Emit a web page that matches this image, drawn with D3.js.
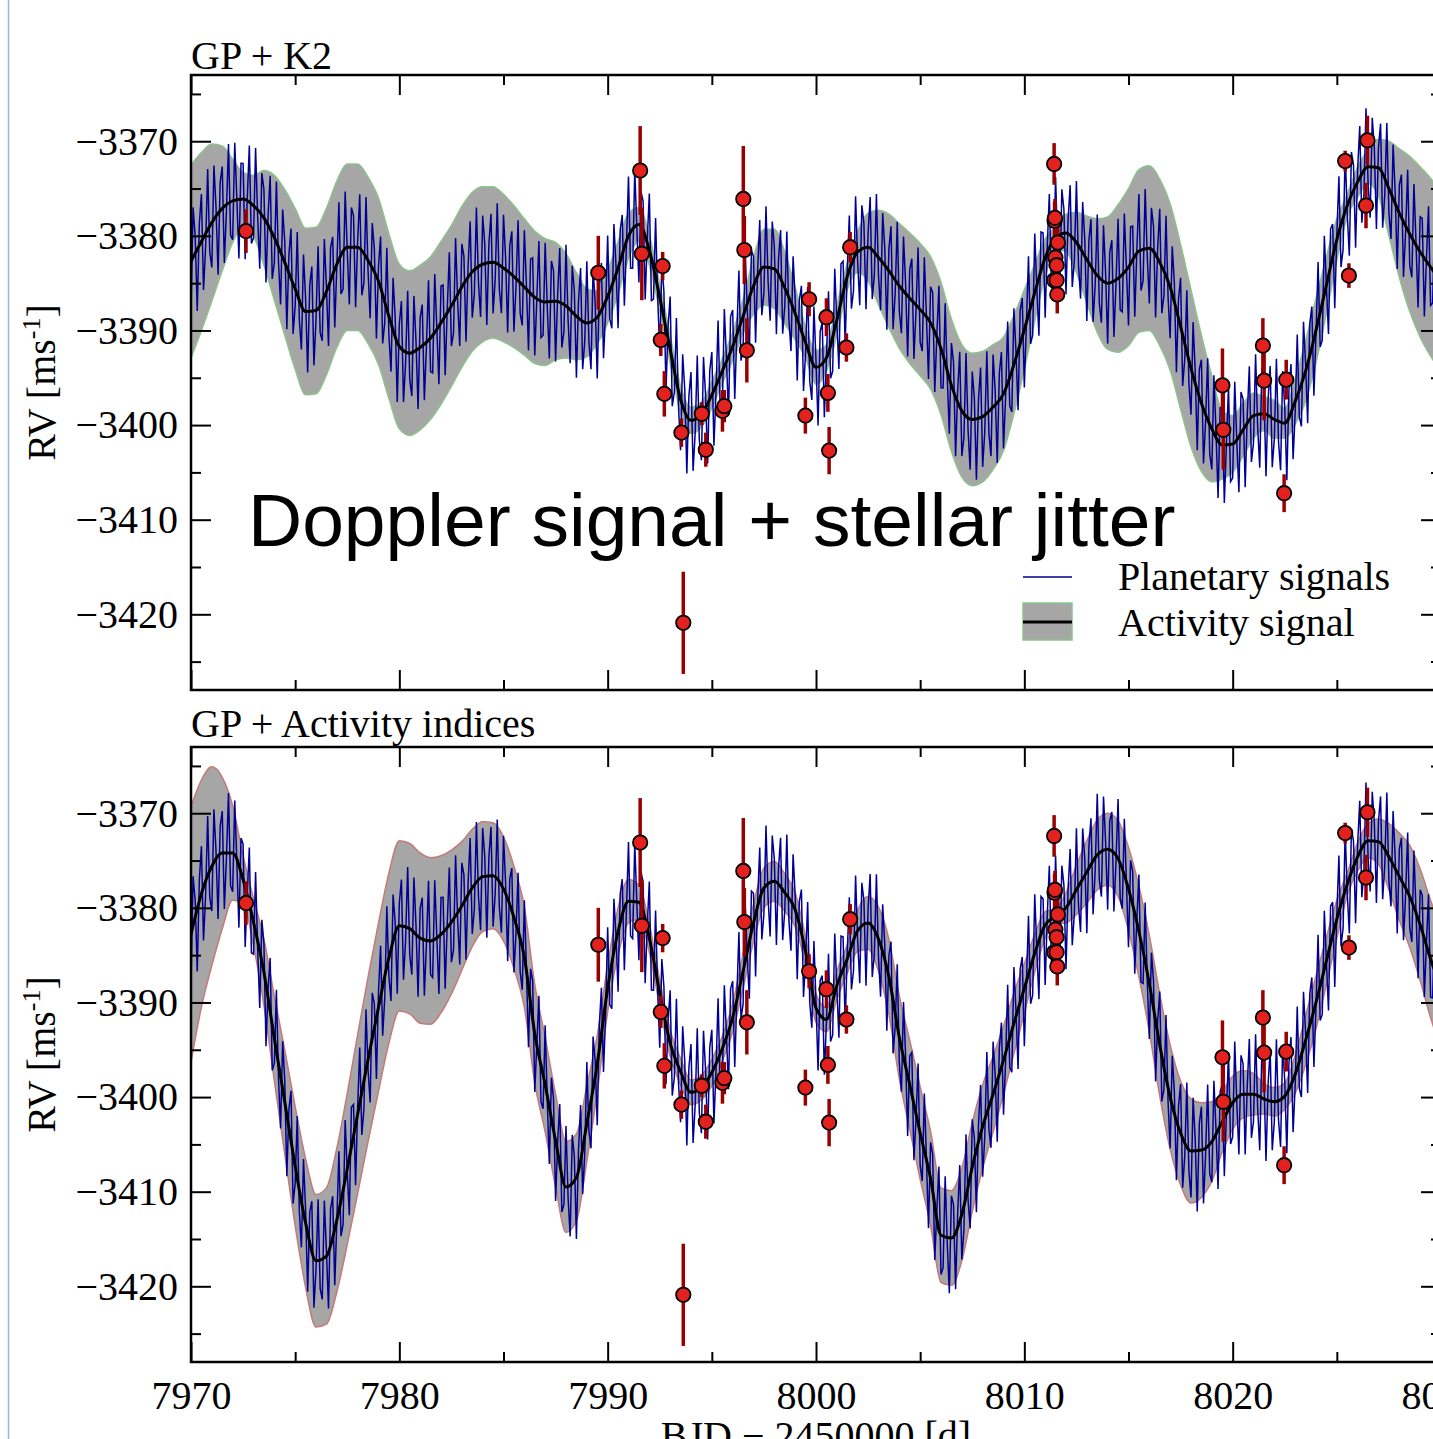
<!DOCTYPE html>
<html>
<head>
<meta charset="utf-8">
<script src="https://cdn.jsdelivr.net/npm/d3@7"></script>
<style>
  body { margin: 0; background: #fff; }
  svg { display: block; }
</style>
</head>
<body>
<div id="chart"></div>
<script>
// ---- data ----
// GP mean and half width of the activity band, every 0.5 d from 7970 to 8030
const gpStart = 7970, gpStep = 0.5;

const topMean = [
  -3382.7, -3380.6, -3378.6, -3377.1, -3376.3, -3376.1, -3376.8, -3378.1, -3380.2, -3382.8,
  -3385.6, -3388.0, -3387.9, -3385.9, -3383.0, -3381.2, -3381.2, -3382.6, -3384.8, -3388.5,
  -3391.7, -3392.4, -3391.8, -3390.8, -3389.2, -3387.4, -3385.4, -3383.8, -3383.0, -3382.8,
  -3383.4, -3384.3, -3385.4, -3386.5, -3387.0, -3386.9, -3387.4, -3388.5, -3389.2, -3388.6,
  -3386.4, -3383.4, -3380.0, -3378.8, -3381.5, -3386.5, -3392.0, -3397.3, -3399.5, -3398.9,
  -3396.8, -3394.3, -3391.7, -3388.5, -3385.3, -3383.3, -3383.5, -3385.5, -3388.2, -3391.3,
  -3393.9, -3392.9, -3388.9, -3384.3, -3381.7, -3381.2, -3382.3, -3383.7, -3385.3, -3386.6,
  -3387.8, -3389.2, -3391.9, -3395.8, -3398.5, -3399.4, -3399.1, -3398.1, -3396.7, -3393.6,
  -3389.9, -3386.0, -3382.3, -3380.2, -3379.7, -3380.7, -3382.5, -3384.2, -3385.0, -3384.5,
  -3383.3, -3381.6, -3381.3, -3382.8, -3385.4, -3389.6, -3394.0, -3397.7, -3400.4, -3402.1,
  -3402.0, -3400.5, -3399.0, -3398.8, -3399.4, -3399.8, -3397.5, -3394.3, -3390.0, -3385.2,
  -3380.4, -3376.8, -3374.3, -3372.7, -3372.8, -3375.0, -3377.6, -3379.8, -3381.7, -3383.3,
  -3384.8
];
const topHalf = [
  10.2, 9.4, 8.3, 6.6, 4.4, 2.8, 3.2, 5.0, 6.6, 7.7,
  8.5, 8.8, 8.8, 8.8, 8.8, 8.8, 8.8, 8.8, 8.8, 8.7,
  8.7, 8.7, 8.7, 8.6, 8.6, 8.5, 8.5, 8.4, 8.2, 8.0,
  7.8, 7.5, 7.2, 7.0, 6.7, 6.2, 5.5, 4.6, 3.6, 2.8,
  2.8, 2.8, 2.4, 1.8, 1.6, 1.4, 1.5, 1.4, 1.4, 1.3,
  1.4, 1.3, 1.5, 1.8, 3.0, 4.0, 4.2, 3.8, 2.8, 1.6,
  1.8, 1.4, 1.6, 1.4, 2.2, 3.6, 5.0, 6.0, 6.6, 6.9,
  7.0, 7.0, 7.0, 7.0, 7.0, 7.0, 6.9, 6.6, 6.0, 5.2,
  4.2, 3.0, 2.0, 1.2, 2.0, 3.2, 4.6, 6.0, 7.0, 7.8,
  8.3, 8.6, 8.7, 8.8, 8.8, 8.7, 8.3, 7.2, 5.6, 3.6,
  3.0, 2.8, 2.4, 1.8, 2.0, 1.6, 2.4, 3.2, 3.4, 3.0,
  2.2, 1.2, 1.6, 1.8, 3.0, 5.0, 6.8, 8.2, 9.0, 9.4,
  9.5
];
const botMean = [
  -3382.8, -3378.5, -3375.6, -3374.2, -3374.2, -3377.0, -3381.5, -3386.8, -3393.8, -3400.5,
  -3407.3, -3413.3, -3417.3, -3416.8, -3413.0, -3407.6, -3401.8, -3396.0, -3390.5, -3385.3,
  -3381.9, -3382.2, -3383.2, -3383.5, -3382.8, -3381.5, -3379.8, -3377.9, -3376.7, -3376.6,
  -3378.0, -3381.0, -3385.2, -3393.3, -3398.7, -3404.6, -3409.5, -3408.5, -3402.8, -3396.5,
  -3388.5, -3382.5, -3379.3, -3379.4, -3383.2, -3389.0, -3394.3, -3397.3, -3399.5, -3399.0,
  -3397.4, -3394.9, -3391.6, -3386.7, -3381.6, -3377.9, -3377.2, -3378.4, -3380.2, -3384.6,
  -3390.6, -3391.8, -3388.2, -3385.4, -3382.4, -3381.6, -3383.3, -3387.3, -3393.7, -3398.7,
  -3403.8, -3408.6, -3414.6, -3414.9, -3412.4, -3407.4, -3403.1, -3399.7, -3396.1, -3392.2,
  -3388.5, -3384.8, -3381.8, -3380.9, -3380.0, -3378.1, -3376.2, -3374.4, -3373.8, -3374.8,
  -3378.0, -3382.5, -3388.0, -3394.5, -3400.0, -3403.8, -3405.7, -3405.6, -3404.7, -3402.6,
  -3400.6, -3399.7, -3399.7, -3400.2, -3400.5, -3399.9, -3397.6, -3394.0, -3390.0, -3385.6,
  -3381.2, -3377.5, -3374.6, -3372.9, -3373.0, -3374.6, -3376.7, -3378.8, -3381.8, -3385.4,
  -3388.5
];
const botHalf = [
  13.5, 12.0, 10.5, 8.0, 5.0, 2.5, 2.5, 3.5, 4.5, 5.5,
  6.3, 6.8, 7.0, 7.2, 7.6, 8.0, 8.4, 8.7, 8.9, 9.0,
  9.0, 9.0, 9.0, 8.8, 8.3, 7.6, 6.8, 6.2, 5.8, 5.6,
  5.5, 5.4, 5.3, 5.2, 5.0, 4.9, 4.8, 4.6, 4.0, 3.0,
  2.5, 2.5, 2.3, 1.8, 1.5, 1.4, 1.4, 1.4, 1.3, 1.3,
  1.4, 1.3, 1.5, 1.8, 2.0, 2.1, 2.1, 2.0, 1.8, 1.5,
  1.5, 1.3, 1.5, 1.5, 2.2, 2.8, 3.4, 4.0, 4.4, 4.7,
  4.9, 5.0, 5.0, 5.0, 4.9, 4.7, 4.4, 4.0, 3.6, 3.2,
  2.6, 2.0, 1.4, 0.8, 1.6, 2.6, 3.3, 3.7, 3.8, 4.0,
  4.4, 4.8, 5.1, 5.4, 5.5, 5.5, 5.5, 5.0, 4.2, 3.2,
  2.8, 2.5, 2.2, 1.6, 1.5, 1.4, 2.0, 2.6, 2.8, 2.5,
  2.0, 1.2, 1.5, 1.8, 2.4, 3.5, 4.6, 5.4, 5.9, 6.2,
  6.4
];

// planetary signal: apparent period and amplitude of the blue zigzag
const planetPeriod = [0.331];
const planetK = [6.5];
const planetT0 = [7970.05];

// radial velocities
const obsTime = [
  7972.64, 7989.55, 7991.56, 7991.64, 7992.64, 7992.55, 7992.72, 7993.54, 7993.63, 7994.52,
  7994.71, 7995.51, 7995.60, 7996.51, 7996.56, 7996.68, 7999.49, 7999.67, 8000.50, 8000.57,
  8000.63, 8001.46, 8001.64, 8011.43, 8011.45, 8011.47, 8011.61, 8011.49, 8011.55, 8011.43,
  8011.55, 8011.58, 8019.51, 8019.55, 8021.45, 8021.51, 8022.57, 8022.47, 8025.40, 8025.58,
  8026.40, 8026.47
];
const obsRV = [
  -3379.5, -3383.9, -3373.1, -3381.9, -3383.2, -3391.0, -3396.7, -3400.8, -3420.9, -3398.8,
  -3402.6, -3398.5, -3398.0, -3376.1, -3381.5, -3392.1, -3399.0, -3386.7, -3388.6, -3396.6,
  -3402.7, -3391.8, -3381.2, -3372.4, -3378.4, -3378.1, -3380.7, -3382.3, -3383.1, -3384.7,
  -3384.7, -3386.2, -3395.8, -3400.5, -3391.6, -3395.3, -3395.2, -3407.2, -3372.1, -3384.2,
  -3376.8, -3369.9
];
const obsErr = [
  2.3, 3.9, 4.7, 4.9, 1.5, 1.7, 2.4, 1.5, 5.4, 1.2,
  1.8, 2.2, 1.7, 5.6, 3.6, 3.4, 1.9, 1.8, 2.0, 2.0,
  2.5, 1.5, 1.6, 2.2, 2.0, 2.0, 2.0, 2.0, 2.0, 2.0,
  2.0, 2.0, 3.9, 4.2, 2.9, 4.2, 2.1, 2.0, 1.1, 1.3,
  2.4, 2.6
];

const xMajor = [7970, 7980, 7990, 8000, 8010, 8020, 8030];
const xMinor = [7975, 7985, 7995, 8005, 8015, 8025];
const yMajor = [-3420, -3410, -3400, -3390, -3380, -3370];
const yMinor = [-3425, -3415, -3405, -3395, -3385, -3375, -3365];

const panelTitles = ["GP + K2", "GP + Activity indices"];
const legendLabels = ["Planetary signals", "Activity signal"];

// ---- layout ----
const W = 1433, H = 1439;
const left = 191, right = 1441, plotH = 615;
const panelTops = [75, 747];
const titleY = [69, 737];
const serif = "'Liberation Serif', 'Times New Roman', Times, serif";
const bandStroke = ["#8cc38c", "#c47a7a"];

const svg = d3.select("#chart").append("svg")
  .attr("width", W)
  .attr("height", H)
  .style("font-family", serif);

svg.append("rect").attr("width", W).attr("height", H).attr("fill", "#fff");
// page edge line on the left
svg.append("line")
  .attr("x1", 8.5).attr("x2", 8.5).attr("y1", 0).attr("y2", H)
  .attr("stroke", "#9fb5d8").attr("stroke-width", 1.5);

const x = d3.scaleLinear().domain([7970, 8030]).range([left, right]);

const gpTime = topMean.map((d, i) => gpStart + i * gpStep);
const sampleTime = d3.range(7970, 8030.001, 0.1);

const obs = obsTime.map((t, i) => ({ t: t, rv: obsRV[i], err: obsErr[i] }));

function keplerian(t) {
  let v = 0;
  planetPeriod.forEach((P, k) => {
    v += planetK[k] * Math.sin(2 * Math.PI * (t - planetT0[k]) / P);
  });
  return v;
}

function drawPanel(idx, mean, half) {
  const top = panelTops[idx];
  const y = d3.scaleLinear().domain([-3428, -3363]).range([top + plotH, top]);

  const clipId = "clip" + idx;
  svg.append("clipPath").attr("id", clipId)
    .append("rect")
    .attr("x", left).attr("y", top)
    .attr("width", right - left).attr("height", plotH);

  const g = svg.append("g").attr("clip-path", `url(#${clipId})`);

  const gp = gpTime.map((t, i) => ({ t: t, m: mean[i], h: half[i] }));

  // activity band
  g.append("path")
    .datum(gp)
    .attr("fill", "#a6a6a6")
    .attr("d", d3.area()
      .x(d => x(d.t))
      .y0(d => y(d.m - d.h))
      .y1(d => y(d.m + d.h))
      .curve(d3.curveMonotoneX));

  [1, -1].forEach(s => {
    g.append("path")
      .datum(gp)
      .attr("fill", "none")
      .attr("stroke", bandStroke[idx])
      .attr("stroke-width", 1.5)
      .attr("d", d3.line()
        .x(d => x(d.t))
        .y(d => y(d.m + s * d.h))
        .curve(d3.curveMonotoneX));
  });

  // planetary signals on top of the GP mean
  const meanAt = d3.scaleLinear().domain(gpTime).range(mean);
  const blue = sampleTime.map(t => ({ t: t, v: meanAt(t) + keplerian(t) }));
  g.append("path")
    .datum(blue)
    .attr("fill", "none")
    .attr("stroke", "#000096")
    .attr("stroke-width", 1.5)
    .attr("d", d3.line().x(d => x(d.t)).y(d => y(d.v)));

  // GP mean
  g.append("path")
    .datum(gp)
    .attr("fill", "none")
    .attr("stroke", "#000")
    .attr("stroke-width", 3)
    .attr("d", d3.line().x(d => x(d.t)).y(d => y(d.m)).curve(d3.curveMonotoneX));

  // error bars + points
  g.selectAll(".err")
    .data(obs)
    .enter()
    .append("line")
    .attr("x1", d => x(d.t)).attr("x2", d => x(d.t))
    .attr("y1", d => y(d.rv - d.err)).attr("y2", d => y(d.rv + d.err))
    .attr("stroke", "#990000")
    .attr("stroke-width", 3.5);

  g.selectAll(".pt")
    .data(obs)
    .enter()
    .append("circle")
    .attr("cx", d => x(d.t))
    .attr("cy", d => y(d.rv))
    .attr("r", 7.2)
    .attr("fill", "#e3211f")
    .attr("stroke", "#000")
    .attr("stroke-width", 1.8);

  // axes, ticks inward on all sides
  function addAxis(gen, transform, keepLabels) {
    const a = svg.append("g").attr("transform", transform).call(gen);
    a.select(".domain").remove();
    a.selectAll(".tick line").attr("stroke", "#000").attr("stroke-width", 2);
    if (keepLabels) {
      a.selectAll("text")
        .attr("fill", "#000")
        .style("font-family", serif)
        .style("font-size", "40px");
    } else {
      a.selectAll("text").remove();
    }
  }
  const fmt = d3.format("d");
  addAxis(d3.axisLeft(y).tickValues(yMajor).tickSize(-20).tickPadding(13).tickFormat(fmt), `translate(${left},0)`, true);
  addAxis(d3.axisLeft(y).tickValues(yMinor).tickSize(-10), `translate(${left},0)`, false);
  addAxis(d3.axisRight(y).tickValues(yMajor).tickSize(-20), `translate(${right},0)`, false);
  addAxis(d3.axisRight(y).tickValues(yMinor).tickSize(-10), `translate(${right},0)`, false);
  addAxis(d3.axisTop(x).tickValues(xMajor).tickSize(-20), `translate(0,${top})`, false);
  addAxis(d3.axisTop(x).tickValues(xMinor).tickSize(-10), `translate(0,${top})`, false);
  addAxis(d3.axisBottom(x).tickValues(xMajor).tickSize(-20).tickPadding(19).tickFormat(fmt),
    `translate(0,${top + plotH})`, idx === 1);
  addAxis(d3.axisBottom(x).tickValues(xMinor).tickSize(-10), `translate(0,${top + plotH})`, false);

  svg.append("rect")
    .attr("x", left).attr("y", top)
    .attr("width", right - left).attr("height", plotH)
    .attr("fill", "none")
    .attr("stroke", "#000")
    .attr("stroke-width", 2.5);

  // panel title
  svg.append("text")
    .attr("x", left)
    .attr("y", titleY[idx])
    .style("font-size", "40px")
    .text(panelTitles[idx]);

  // y label
  const yl = svg.append("text")
    .attr("transform", `translate(55,${top + plotH / 2}) rotate(-90)`)
    .attr("text-anchor", "middle")
    .style("font-size", "40px");
  yl.append("tspan").text("RV [ms");
  yl.append("tspan").attr("dy", -15).style("font-size", "26px").text("-1");
  yl.append("tspan").attr("dy", 15).text("]");
}

drawPanel(0, topMean, topHalf);
drawPanel(1, botMean, botHalf);

// annotation
svg.append("text")
  .attr("x", 248)
  .attr("y", 546)
  .style("font-family", "'Liberation Sans', Arial, sans-serif")
  .style("font-size", "75px")
  .text("Doppler signal + stellar jitter");

// legend
const lg = svg.append("g");
lg.append("line")
  .attr("x1", 1023).attr("x2", 1072).attr("y1", 577).attr("y2", 577)
  .attr("stroke", "#000096").attr("stroke-width", 1.5);
lg.append("rect")
  .attr("x", 1023).attr("y", 603).attr("width", 49).attr("height", 37)
  .attr("fill", "#a6a6a6").attr("stroke", bandStroke[0]).attr("stroke-width", 1.5);
lg.append("line")
  .attr("x1", 1023).attr("x2", 1072).attr("y1", 622).attr("y2", 622)
  .attr("stroke", "#000").attr("stroke-width", 3);
legendLabels.forEach((s, i) => {
  lg.append("text")
    .attr("x", 1118)
    .attr("y", 590 + i * 46)
    .style("font-size", "40px")
    .text(s);
});

// x label
svg.append("text")
  .attr("x", x(8000))
  .attr("y", 1449)
  .attr("text-anchor", "middle")
  .style("font-size", "40px")
  .text("BJD \u2212 2450000 [d]");
</script>
</body>
</html>
